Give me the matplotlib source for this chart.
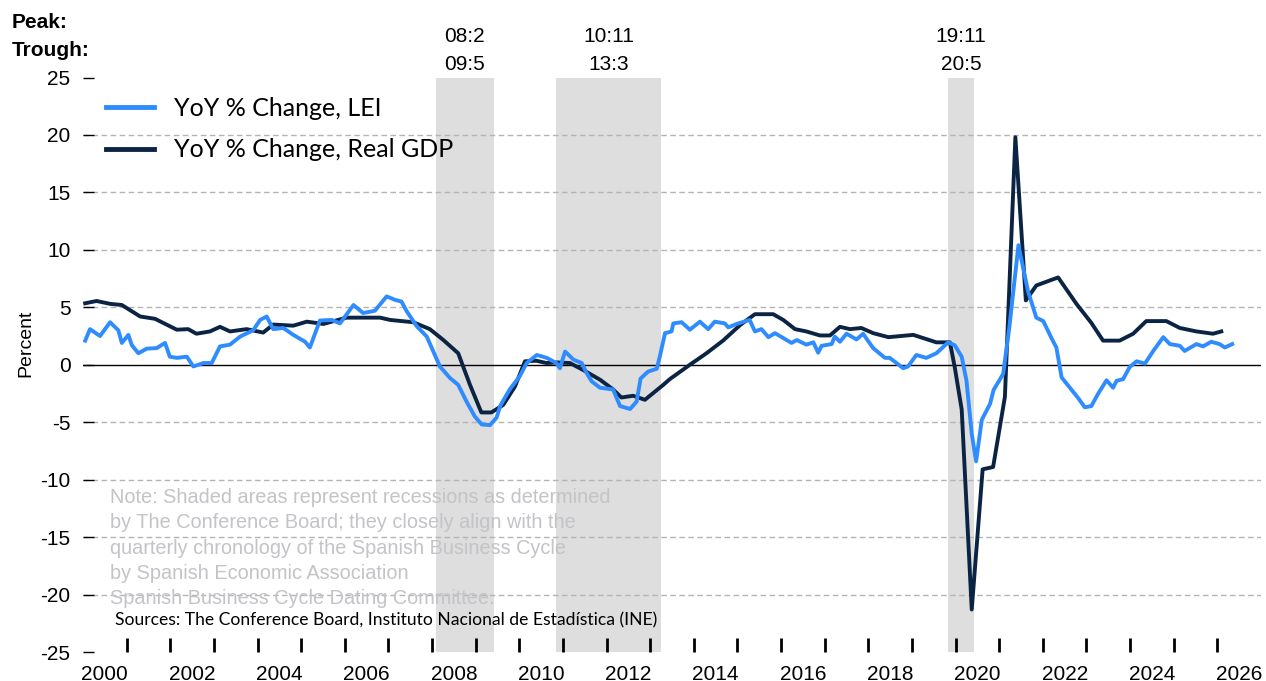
import matplotlib
matplotlib.use("Agg")
from matplotlib import pyplot as plt

plt.rcParams["axes.unicode_minus"] = False

# Dati (anno decimale, variazione % a/a)
lei_anni = [2000.05, 2000.16, 2000.39, 2000.62, 2000.81, 2000.89, 2001.04, 2001.12, 2001.27, 2001.46,
            2001.69, 2001.88, 2001.99, 2002.15, 2002.38, 2002.53, 2002.76, 2002.95, 2003.14, 2003.37,
            2003.60, 2003.90, 2004.06, 2004.21, 2004.36, 2004.59, 2004.82, 2005.09, 2005.20, 2005.43,
            2005.70, 2005.89, 2006.20, 2006.42, 2006.69, 2006.96, 2007.15, 2007.30, 2007.42, 2007.65,
            2007.88, 2008.03, 2008.18, 2008.41, 2008.60, 2008.79, 2008.98, 2009.14, 2009.33, 2009.48,
            2009.56, 2009.78, 2010.01, 2010.17, 2010.40, 2010.63, 2010.85, 2010.93, 2011.05, 2011.24,
            2011.43, 2011.54, 2011.66, 2011.85, 2012.15, 2012.31, 2012.54, 2012.69, 2012.78, 2012.95,
            2013.15, 2013.22, 2013.34, 2013.49, 2013.53, 2013.72, 2013.91, 2014.14, 2014.33, 2014.48,
            2014.71, 2014.79, 2014.98, 2015.28, 2015.40, 2015.55, 2015.71, 2015.86, 2016.24, 2016.36,
            2016.58, 2016.74, 2016.85, 2016.93, 2017.16, 2017.23, 2017.35, 2017.50, 2017.73, 2017.88,
            2018.11, 2018.38, 2018.49, 2018.80, 2018.91, 2019.10, 2019.33, 2019.56, 2019.83, 2019.98,
            2020.14, 2020.25, 2020.37, 2020.47, 2020.60, 2020.79, 2020.87, 2021.09, 2021.23, 2021.44,
            2021.66, 2021.85, 2022.01, 2022.20, 2022.31, 2022.43, 2022.62, 2022.81, 2022.96, 2023.11,
            2023.27, 2023.46, 2023.61, 2023.69, 2023.84, 2023.99, 2024.15, 2024.34, 2024.53, 2024.76,
            2024.91, 2025.14, 2025.25, 2025.52, 2025.67, 2025.86, 2026.05, 2026.17, 2026.34]
lei_valori = [2.1, 3.1, 2.5, 3.7, 3.0, 1.9, 2.6, 1.7, 1.0, 1.4,
              1.45, 1.9, 0.7, 0.6, 0.7, -0.15, 0.15, 0.15, 1.6, 1.75,
              2.45, 3.0, 3.9, 4.2, 3.1, 3.2, 2.6, 2.0, 1.5, 3.85,
              3.9, 3.6, 5.2, 4.5, 4.7, 5.95, 5.65, 5.5, 4.65, 3.35,
              2.45, 1.15, -0.15, -1.15, -1.75, -3.2, -4.5, -5.2, -5.25, -4.6,
              -3.6, -2.15, -1.0, 0.15, 0.85, 0.6, 0.15, -0.3, 1.15, 0.45,
              0.15, -0.7, -1.45, -2.0, -2.15, -3.6, -3.85, -3.2, -1.2, -0.6,
              -0.35, 0.7, 2.75, 2.9, 3.6, 3.7, 3.05, 3.75, 3.1, 3.75,
              3.6, 3.25, 3.55, 3.9, 2.9, 3.1, 2.4, 2.75, 1.9, 2.15,
              1.75, 1.95, 1.05, 1.65, 1.8, 2.45, 2.0, 2.7, 2.2, 2.7,
              1.45, 0.6, 0.6, -0.3, -0.15, 0.85, 0.6, 1.0, 1.95, 1.7,
              0.7, -1.4, -6.0, -8.4, -4.8, -3.4, -2.2, -0.8, 3.2, 10.4,
              6.4, 4.1, 3.8, 2.3, 1.5, -1.1, -2.0, -2.9, -3.7, -3.6,
              -2.5, -1.35, -2.0, -1.4, -1.25, -0.2, 0.3, 0.1, 1.2, 2.4,
              1.8, 1.65, 1.2, 1.8, 1.6, 2.0, 1.8, 1.5, 1.8]

pil_anni = [2000.05, 2000.31, 2000.62, 2000.89, 2001.31, 2001.65, 2002.15, 2002.41, 2002.60, 2002.91,
            2003.14, 2003.37, 2003.75, 2004.13, 2004.36, 2004.82, 2005.13, 2005.51, 2006.04, 2006.81,
            2007.04, 2007.57, 2007.95, 2008.26, 2008.60, 2008.87, 2009.13, 2009.36, 2009.63, 2009.90,
            2010.13, 2010.39, 2010.62, 2010.85, 2011.16, 2011.46, 2011.85, 2012.15, 2012.34, 2012.61,
            2012.88, 2013.30, 2013.45, 2013.91, 2014.29, 2014.67, 2015.06, 2015.40, 2015.82, 2016.05,
            2016.32, 2016.58, 2016.89, 2017.12, 2017.35, 2017.58, 2017.84, 2018.11, 2018.46, 2019.03,
            2019.56, 2019.87, 2019.98, 2020.14, 2020.37, 2020.62, 2020.86, 2021.13, 2021.37, 2021.61,
            2021.85, 2022.35, 2022.77, 2023.11, 2023.38, 2023.76, 2024.07, 2024.37, 2024.83, 2025.14,
            2025.52, 2025.90, 2026.09]
pil_valori = [5.35, 5.55, 5.3, 5.2, 4.2, 4.0, 3.05, 3.1, 2.7, 2.9,
              3.3, 2.9, 3.1, 2.8, 3.5, 3.4, 3.75, 3.55, 4.1, 4.1,
              3.9, 3.7, 3.1, 2.15, 1.0, -1.75, -4.15, -4.15, -3.5, -1.9,
              0.3, 0.35, 0.15, 0.2, 0.15, -0.45, -1.3, -2.15, -2.85, -2.7,
              -3.05, -1.75, -1.25, 0.0, 1.0, 2.1, 3.45, 4.4, 4.4, 3.9,
              3.1, 2.9, 2.55, 2.55, 3.3, 3.1, 3.2, 2.75, 2.4, 2.6,
              1.95, 1.95, -0.2, -3.9, -21.3, -9.1, -8.9, -2.8, 19.8, 5.6,
              6.9, 7.6, 5.3, 3.65, 2.1, 2.1, 2.7, 3.8, 3.8, 3.2,
              2.9, 2.7, 2.9]

# Recessioni (picco, minimo) come anno/mese
recessioni = [((2008, 2), (2009, 5)), ((2010, 11), (2013, 3)), ((2019, 11), (2020, 5))]
etichette_picco = ["08:2", "10:11", "19:11"]
etichette_minimo = ["09:5", "13:3", "20:5"]

anni_etichette = list(range(2000, 2027, 2))
anni_tacche = list(range(2001, 2027))

BLU = "#2F8CFF"
BLU_SCURO = "#0B2444"
GRIGIO_NOTA = "#C3C3C8"

fig = plt.figure(figsize=(12.66, 6.81), dpi=100)
ax = fig.add_axes([83 / 1266, 1 - 652 / 681, (1261 - 83) / 1266, (652 - 77.5) / 681])

# Aree di recessione
for (a1, m1), (a2, m2) in recessioni:
    ax.axvspan(a1 + (m1 - 1) / 12, a2 + m2 / 12, color="#DEDEDE", lw=0, zorder=0)

# Griglia tratteggiata e linea dello zero
for livello in [-20, -15, -10, -5, 5, 10, 15, 20]:
    ax.axhline(livello, color="#B4B4B4", lw=1, ls=(0, (4, 2.5)), zorder=1)
ax.axhline(0, color="black", lw=1, zorder=2)

ax.plot(lei_anni, lei_valori, color=BLU, lw=2.8, label="YoY % Change, LEI", zorder=4)
ax.plot(pil_anni, pil_valori, color=BLU_SCURO, lw=2.8, label="YoY % Change, Real GDP", zorder=3)

ax.set_xlim(2000, 2027)
ax.set_ylim(-25, 25)
for lato in ax.spines.values():
    lato.set_visible(False)

ax.set_yticks(range(-25, 30, 5))
ax.tick_params(axis="y", direction="in", length=8, width=1, pad=9, labelsize=15)

# etichette a metà anno (principali), tacche annuali verso l'interno (secondarie)
ax.set_xticks([a + 0.5 for a in anni_etichette])
ax.set_xticklabels([str(a) for a in anni_etichette])
ax.set_xticks(anni_tacche, minor=True)
ax.tick_params(axis="x", which="major", length=0, pad=9, labelsize=15)
ax.tick_params(axis="x", which="minor", direction="in", length=10, width=2,
               color="black", bottom=True)

for etichetta in ax.get_xticklabels() + ax.get_yticklabels():
    etichetta.set_fontfamily("Liberation Sans")

fig.text(26 / 1266, 1 - 343 / 681, "Percent", rotation=90, ha="center", va="center",
         fontsize=14, family="Liberation Sans")

legenda = ax.legend(loc="upper left", bbox_to_anchor=(0.0, 1.006), frameon=False,
                    prop={"family": "Lato", "size": 18}, handlelength=1.95,
                    handletextpad=0.8, labelspacing=0.75)
for linea in legenda.get_lines():
    linea.set_linewidth(3.5)

# Intestazione picco/minimo
fig.text(12 / 1266, 1 - 22 / 681, "Peak:", fontsize=15, fontweight="bold",
         family="Liberation Sans", va="center")
fig.text(12 / 1266, 1 - 50 / 681, "Trough:", fontsize=15, fontweight="bold",
         family="Liberation Sans", va="center")
for ((a1, m1), (a2, m2)), picco, minimo in zip(recessioni, etichette_picco, etichette_minimo):
    centro = (a1 + (m1 - 1) / 12 + a2 + m2 / 12) / 2
    xf = fig.transFigure.inverted().transform(ax.transData.transform((centro, 0)))[0]
    fig.text(xf, 1 - 37 / 681, picco, fontsize=15, family="Liberation Sans", ha="center", va="center")
    fig.text(xf, 1 - 64 / 681, minimo, fontsize=15, family="Liberation Sans", ha="center", va="center")

nota = ("Note: Shaded areas represent recessions as determined\n"
        "by The Conference Board; they closely align with the\n"
        "quarterly chronology of the Spanish Business Cycle\n"
        "by Spanish Economic Association\n"
        "Spanish Business Cycle Dating Committee.")
fig.text(110 / 1266, 1 - 488 / 681, nota, fontsize=14.3, color=GRIGIO_NOTA, family="Liberation Sans",
         va="top", linespacing=1.42, zorder=5)
fig.text(115 / 1266, 1 - 620 / 681,
         "Sources: The Conference Board, Instituto Nacional de Estadística (INE)",
         fontsize=12.6, family="Lato", va="center")

fig.savefig("out.png", dpi=100)
